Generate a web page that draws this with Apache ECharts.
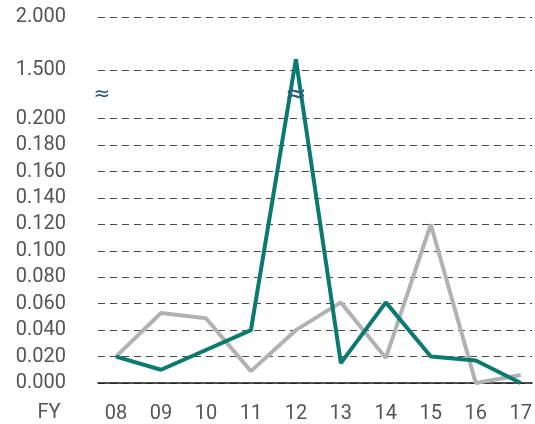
<!DOCTYPE html>
<html>
<head>
<meta charset="utf-8">
<script src="https://cdn.jsdelivr.net/npm/echarts@6/dist/echarts.min.js"></script>
<style>
  html, body { margin: 0; padding: 0; background: #fff; }
  #chart { width: 535px; height: 424px; }
</style>
</head>
<body>
<div id="chart"></div>
<script>
  // fiscal years on the x axis
  var years = ['08', '09', '10', '11', '12', '13', '14', '15', '16', '17'];
  var tealValues = [0.020, 0.010, 0.025, 0.040, 1.600, 0.015, 0.061, 0.020, 0.017, 0.000];
  var greyValues = [0.020, 0.053, 0.049, 0.009, 0.040, 0.061, 0.019, 0.120, 0.000, 0.006];
  var lowTicks = [0, 0.02, 0.04, 0.06, 0.08, 0.1, 0.12, 0.14, 0.16, 0.18, 0.2];
  var highTicks = [1.5, 2.0];

  // broken axis: 0..0.2 in steps of 0.02 -> 0..10, then a gap, then 1.5..2.0
  var LOW_MAX = 0.2, LOW_STEP = 0.02;
  var HIGH_MIN = 1.5, HIGH_START = 11.85, HIGH_UNIT = 4; // 4 units per 1.0
  function toAxis(v) {
    if (v <= LOW_MAX) return v / LOW_STEP;
    if (v >= HIGH_MIN) return HIGH_START + (v - HIGH_MIN) * HIGH_UNIT;
    // inside the break: squeeze linearly
    return LOW_MAX / LOW_STEP + (v - LOW_MAX) / (HIGH_MIN - LOW_MAX) * (HIGH_START - LOW_MAX / LOW_STEP);
  }
  function fromAxis(a) {
    if (a <= LOW_MAX / LOW_STEP + 1e-6) return a * LOW_STEP;
    return HIGH_MIN + (a - HIGH_START) / HIGH_UNIT;
  }

  var tickPos = lowTicks.concat(highTicks).map(toAxis);
  var breakMid = (LOW_MAX / LOW_STEP + HIGH_START) / 2;

  function toData(arr) {
    return arr.map(function (v, i) { return [i, toAxis(v)]; });
  }

  var chart = echarts.init(document.getElementById('chart'));
  var option = {
    animation: false,
    textStyle: { fontFamily: 'Roboto' },
    grid: { left: 98, right: 0, top: 17, bottom: 40 },
    xAxis: {
      type: 'value',
      min: -0.4,
      max: 9.25,
      axisLine: { show: true, onZero: true, lineStyle: { color: '#1a1a1a', width: 1.5 } },
      axisTick: { show: false, customValues: [0, 1, 2, 3, 4, 5, 6, 7, 8, 9] },
      splitLine: { show: false },
      axisLabel: {
        customValues: [0, 1, 2, 3, 4, 5, 6, 7, 8, 9],
        formatter: function (v) { return years[Math.round(v)]; },
        color: '#555',
        fontSize: 20,
        margin: 21
      }
    },
    yAxis: {
      type: 'value',
      min: 0,
      max: toAxis(2.0),
      axisLine: { show: false },
      axisTick: { show: false, customValues: tickPos },
      axisLabel: {
        customValues: tickPos,
        formatter: function (v) { return fromAxis(v).toFixed(3); },
        color: '#555',
        fontSize: 20,
        margin: 32
      },
      splitLine: {
        show: true,
        lineStyle: { color: '#4a4a4a', width: 1, type: [7, 5] }
      }
    },
    series: [
      {
        type: 'line',
        data: toData(greyValues),
        symbol: 'none',
        lineStyle: { color: '#b2b2b2', width: 4 },
        z: 2
      },
      {
        type: 'line',
        data: toData(tealValues),
        symbol: 'none',
        lineStyle: { color: '#0a7a70', width: 4 },
        z: 3
      }
    ]
  };
  chart.setOption(option);

  // break marks on the axis and on the line crossing the break
  var onAxis = chart.convertToPixel({ gridIndex: 0 }, [-0.4, breakMid]);
  var onLine = chart.convertToPixel({ gridIndex: 0 }, [4, breakMid]);
  chart.setOption({
    graphic: [
      {
        type: 'text', x: onAxis[0] + 4, y: onAxis[1] + 1, z: 10,
        style: { text: '≈', fontSize: 20, fill: '#2b5b7a', align: 'center', verticalAlign: 'middle', fontFamily: 'DejaVu Sans' }
      },
      {
        type: 'text', x: onLine[0], y: onLine[1] + 1, z: 10,
        style: { text: '≈', fontSize: 26, fill: '#2b5b7a', align: 'center', verticalAlign: 'middle', fontFamily: 'DejaVu Sans' }
      },
      {
        type: 'text', x: 49, y: 413, z: 10,
        style: { text: 'FY', fontSize: 20, fill: '#555', align: 'center', verticalAlign: 'middle', fontFamily: 'Roboto' }
      }
    ]
  });
</script>
</body>
</html>
